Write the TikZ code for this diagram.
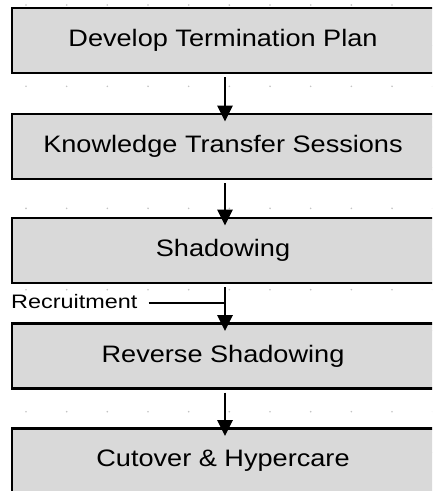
\documentclass[tikz,border=0pt]{standalone}
\usepackage{fontspec}
\setmainfont{Liberation Sans}
\usetikzlibrary{arrows.meta}
\definecolor{boxfill}{HTML}{D9D9D9}
\definecolor{dotgray}{HTML}{C4C4C4}
% step captions are set slightly widened
\newcommand\widetext[1]{\scalebox{1.14}[1]{#1}}
\tikzset{
  stepbox/.style={draw=black, line width=2.5pt, fill=boxfill, outer sep=0pt,
    minimum width=422pt, minimum height=65pt, inner sep=0pt,
    font=\fontsize{23.8}{28}\selectfont},
  flow/.style={line width=1.5pt, -{Triangle[width=15.6pt,length=16pt]},
    shorten <=4pt, shorten >=-7.5pt},
  sideline/.style={line width=1.1pt},
}
\begin{document}
\begin{tikzpicture}[x=1pt, y=-1pt]
  \useasboundingbox (0,0) rectangle (432,491);
  \clip (0,0) rectangle (432,491);
  % background dot grid
  \foreach \i in {0,...,10} {
    \foreach \j in {0,...,11} {
      \fill[dotgray] (26+40.67*\i, 5+40.67*\j) circle (0.9pt);
    }
  }
  % process steps
  \node[stepbox] (b1) at (223,40.5) {\widetext{Develop Termination Plan}};
  \node[stepbox] (b2) at (223,146.5) {\widetext{Knowledge Transfer Sessions}};
  \node[stepbox] (b3) at (223,250.5) {\widetext{Shadowing}};
  \node[stepbox] (b4) at (223,356) {\widetext{Reverse Shadowing}};
  \node[stepbox] (b5) at (223,461) {\widetext{Cutover \& Hypercare}};
  % connectors
  \draw[flow] ([xshift=2pt]b1.south) -- ([xshift=2pt]b2.north);
  \draw[flow] ([xshift=2pt]b2.south) -- ([xshift=2pt]b3.north);
  \draw[flow] ([xshift=2pt]b3.south) -- ([xshift=2pt]b4.north);
  \draw[flow] ([xshift=2pt]b4.south) -- ([xshift=2pt]b5.north);
  % side input
  \node[anchor=base west, inner sep=0pt,
        font=\fontsize{19.5}{22}\selectfont] (rec) at (11,308.3)
        {\scalebox{1.2}[1]{Recruitment}};
  \coordinate (join) at (225,303);
  \draw[sideline] ([xshift=11pt]rec.east |- join) -- (join);
\end{tikzpicture}
\end{document}
